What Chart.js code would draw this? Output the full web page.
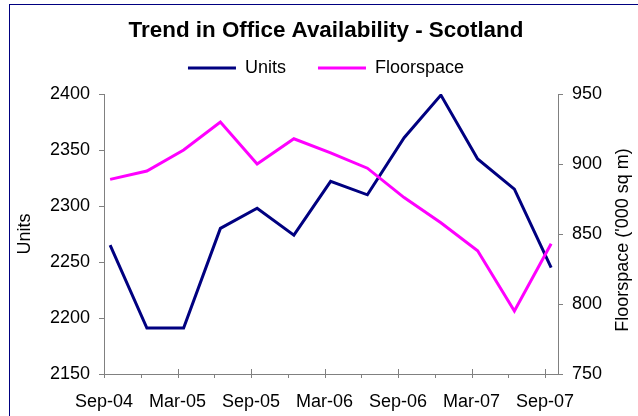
<!DOCTYPE html>
<html>
<head>
<meta charset="utf-8">
<script src="https://cdn.jsdelivr.net/npm/chart.js@4.4.1/dist/chart.umd.min.js"></script>
<style>
  body { margin: 0; background: #fff; }
  .frame { position: absolute; left: 9px; top: 4px; width: 700px; height: 500px; border: 1px solid #000080; }
  #myChart { position: absolute; left: 0; top: 0; }
</style>
</head>
<body>
<div class="frame"></div>
<canvas id="myChart" width="638" height="416"></canvas>
<script>
// quarterly readings, Sep-04 .. Sep-07
const quarters = ['Sep-04','Dec-04','Mar-05','Jun-05','Sep-05','Dec-05','Mar-06','Jun-06','Sep-06','Dec-06','Mar-07','Jun-07','Sep-07']
const units = [2265, 2191, 2191, 2280, 2298, 2274, 2322, 2310, 2361, 2399, 2342, 2315, 2245]
const floorspace = [889, 895, 910, 930, 900, 918, 908, 897, 876, 858, 838, 795, 843]
const unitTicks = [2150, 2200, 2250, 2300, 2350, 2400]
const floorTicks = [750, 800, 850, 900, 950]
const xTickLabels = ['Sep-04','Mar-05','Sep-05','Mar-06','Sep-06','Mar-07','Sep-07']
const rightTitle = "Floorspace ('000 sq m)"

const axisGray = '#808080'
const chart = document.querySelector('#myChart')

// x is months after Sep-04; readings sit mid-month
const toPoints = (values) => values.map((v, i) => ({x: i * 3 + 0.5, y: v}))

// excel style ticks: major ones cross the axis, minor ones only below
const xTickMarks = {
    id: 'xTickMarks',
    afterDatasetsDraw(c) {
        const sx = c.scales.x
        const ctx = c.ctx
        ctx.save()
        ctx.strokeStyle = axisGray
        ctx.lineWidth = 1
        sx.ticks.forEach(t => {
            const px = Math.round(sx.getPixelForValue(t.value)) + 0.5
            const major = t.value % 6 === 0
            ctx.beginPath()
            ctx.moveTo(px, sx.top - (major ? 5 : 0))
            ctx.lineTo(px, sx.top + 4)
            ctx.stroke()
        })
        ctx.restore()
    }
}

// right axis title reads bottom to top like the left one
const rightAxisTitle = {
    id: 'rightAxisTitle',
    afterDraw(c) {
        const s = c.scales.y1
        const ctx = c.ctx
        ctx.save()
        ctx.translate(s.right - 15, (s.top + s.bottom) / 2 + 6)
        ctx.rotate(-Math.PI / 2)
        ctx.font = '18px "Liberation Sans", Arial, sans-serif'
        ctx.fillStyle = '#000'
        ctx.textAlign = 'center'
        ctx.textBaseline = 'middle'
        ctx.fillText(rightTitle, 0, 0)
        ctx.restore()
    }
}

Chart.defaults.font.family = '"Liberation Sans", Arial, sans-serif'
Chart.defaults.color = '#000'

new Chart(chart, {
    type: 'line',
    data: {
        datasets: [{
            label: 'Units',
            data: toPoints(units),
            borderColor: '#000080',
            backgroundColor: '#000080',
            borderWidth: 3,
            pointRadius: 0,
            yAxisID: 'y',
            order: 1
        }, {
            label: 'Floorspace',
            data: toPoints(floorspace),
            borderColor: '#ff00ff',
            backgroundColor: '#ff00ff',
            borderWidth: 3,
            pointRadius: 0,
            yAxisID: 'y1',
            order: 0
        }]
    },
    options: {
        responsive: false,
        animation: false,
        layout: { padding: { left: 14, right: 0, top: 0, bottom: 0 } },
        plugins: {
            tooltip: { enabled: false },
            title: {
                display: true,
                text: 'Trend in Office Availability - Scotland',
                font: { size: 22.4, weight: 'bold' },
                padding: { top: 0, bottom: -17.5 }
            },
            // empty subtitle used as a gap between legend and plot
            subtitle: {
                display: true,
                text: '',
                weight: 500,
                font: { size: 5, lineHeight: '7px' },
                padding: 0
            },
            legend: {
                position: 'top',
                labels: {
                    usePointStyle: true,
                    pointStyle: 'line',
                    pointStyleWidth: 48,
                    padding: 32,
                    font: { size: 18 },
                    sort: (a, b) => a.datasetIndex - b.datasetIndex
                }
            }
        },
        scales: {
            x: {
                type: 'linear',
                min: 0,
                max: 37.06,
                afterBuildTicks: s => { s.ticks = quarters.map((q, i) => ({value: i * 3})) },
                afterFit: s => { s.height = 42 },
                grid: { drawOnChartArea: false, drawTicks: false, color: axisGray },
                border: { color: axisGray },
                ticks: {
                    autoSkip: false,
                    maxRotation: 0,
                    padding: 17,
                    font: { size: 18 },
                    callback: v => v % 6 === 0 ? xTickLabels[v / 6] : ''
                }
            },
            y: {
                position: 'left',
                min: 2150,
                max: 2400,
                afterBuildTicks: s => { s.ticks = unitTicks.map(v => ({value: v})) },
                afterFit: s => { s.width = 90; s.paddingTop = 94 },
                grid: { drawOnChartArea: false, tickLength: 5, color: axisGray },
                border: { color: axisGray },
                ticks: { padding: 9, font: { size: 18 }, callback: v => String(v) },
                title: { display: true, text: 'Units', font: { size: 18 }, padding: { top: 0 } }
            },
            y1: {
                position: 'right',
                min: 750,
                max: 950,
                afterBuildTicks: s => { s.ticks = floorTicks.map(v => ({value: v})) },
                afterFit: s => { s.width = 80 },
                grid: { drawOnChartArea: false, tickLength: 5, color: axisGray },
                border: { color: axisGray },
                ticks: { padding: 9, font: { size: 18 }, callback: v => String(v) }
            }
        }
    },
    plugins: [xTickMarks, rightAxisTitle]
})
</script>
</body>
</html>
